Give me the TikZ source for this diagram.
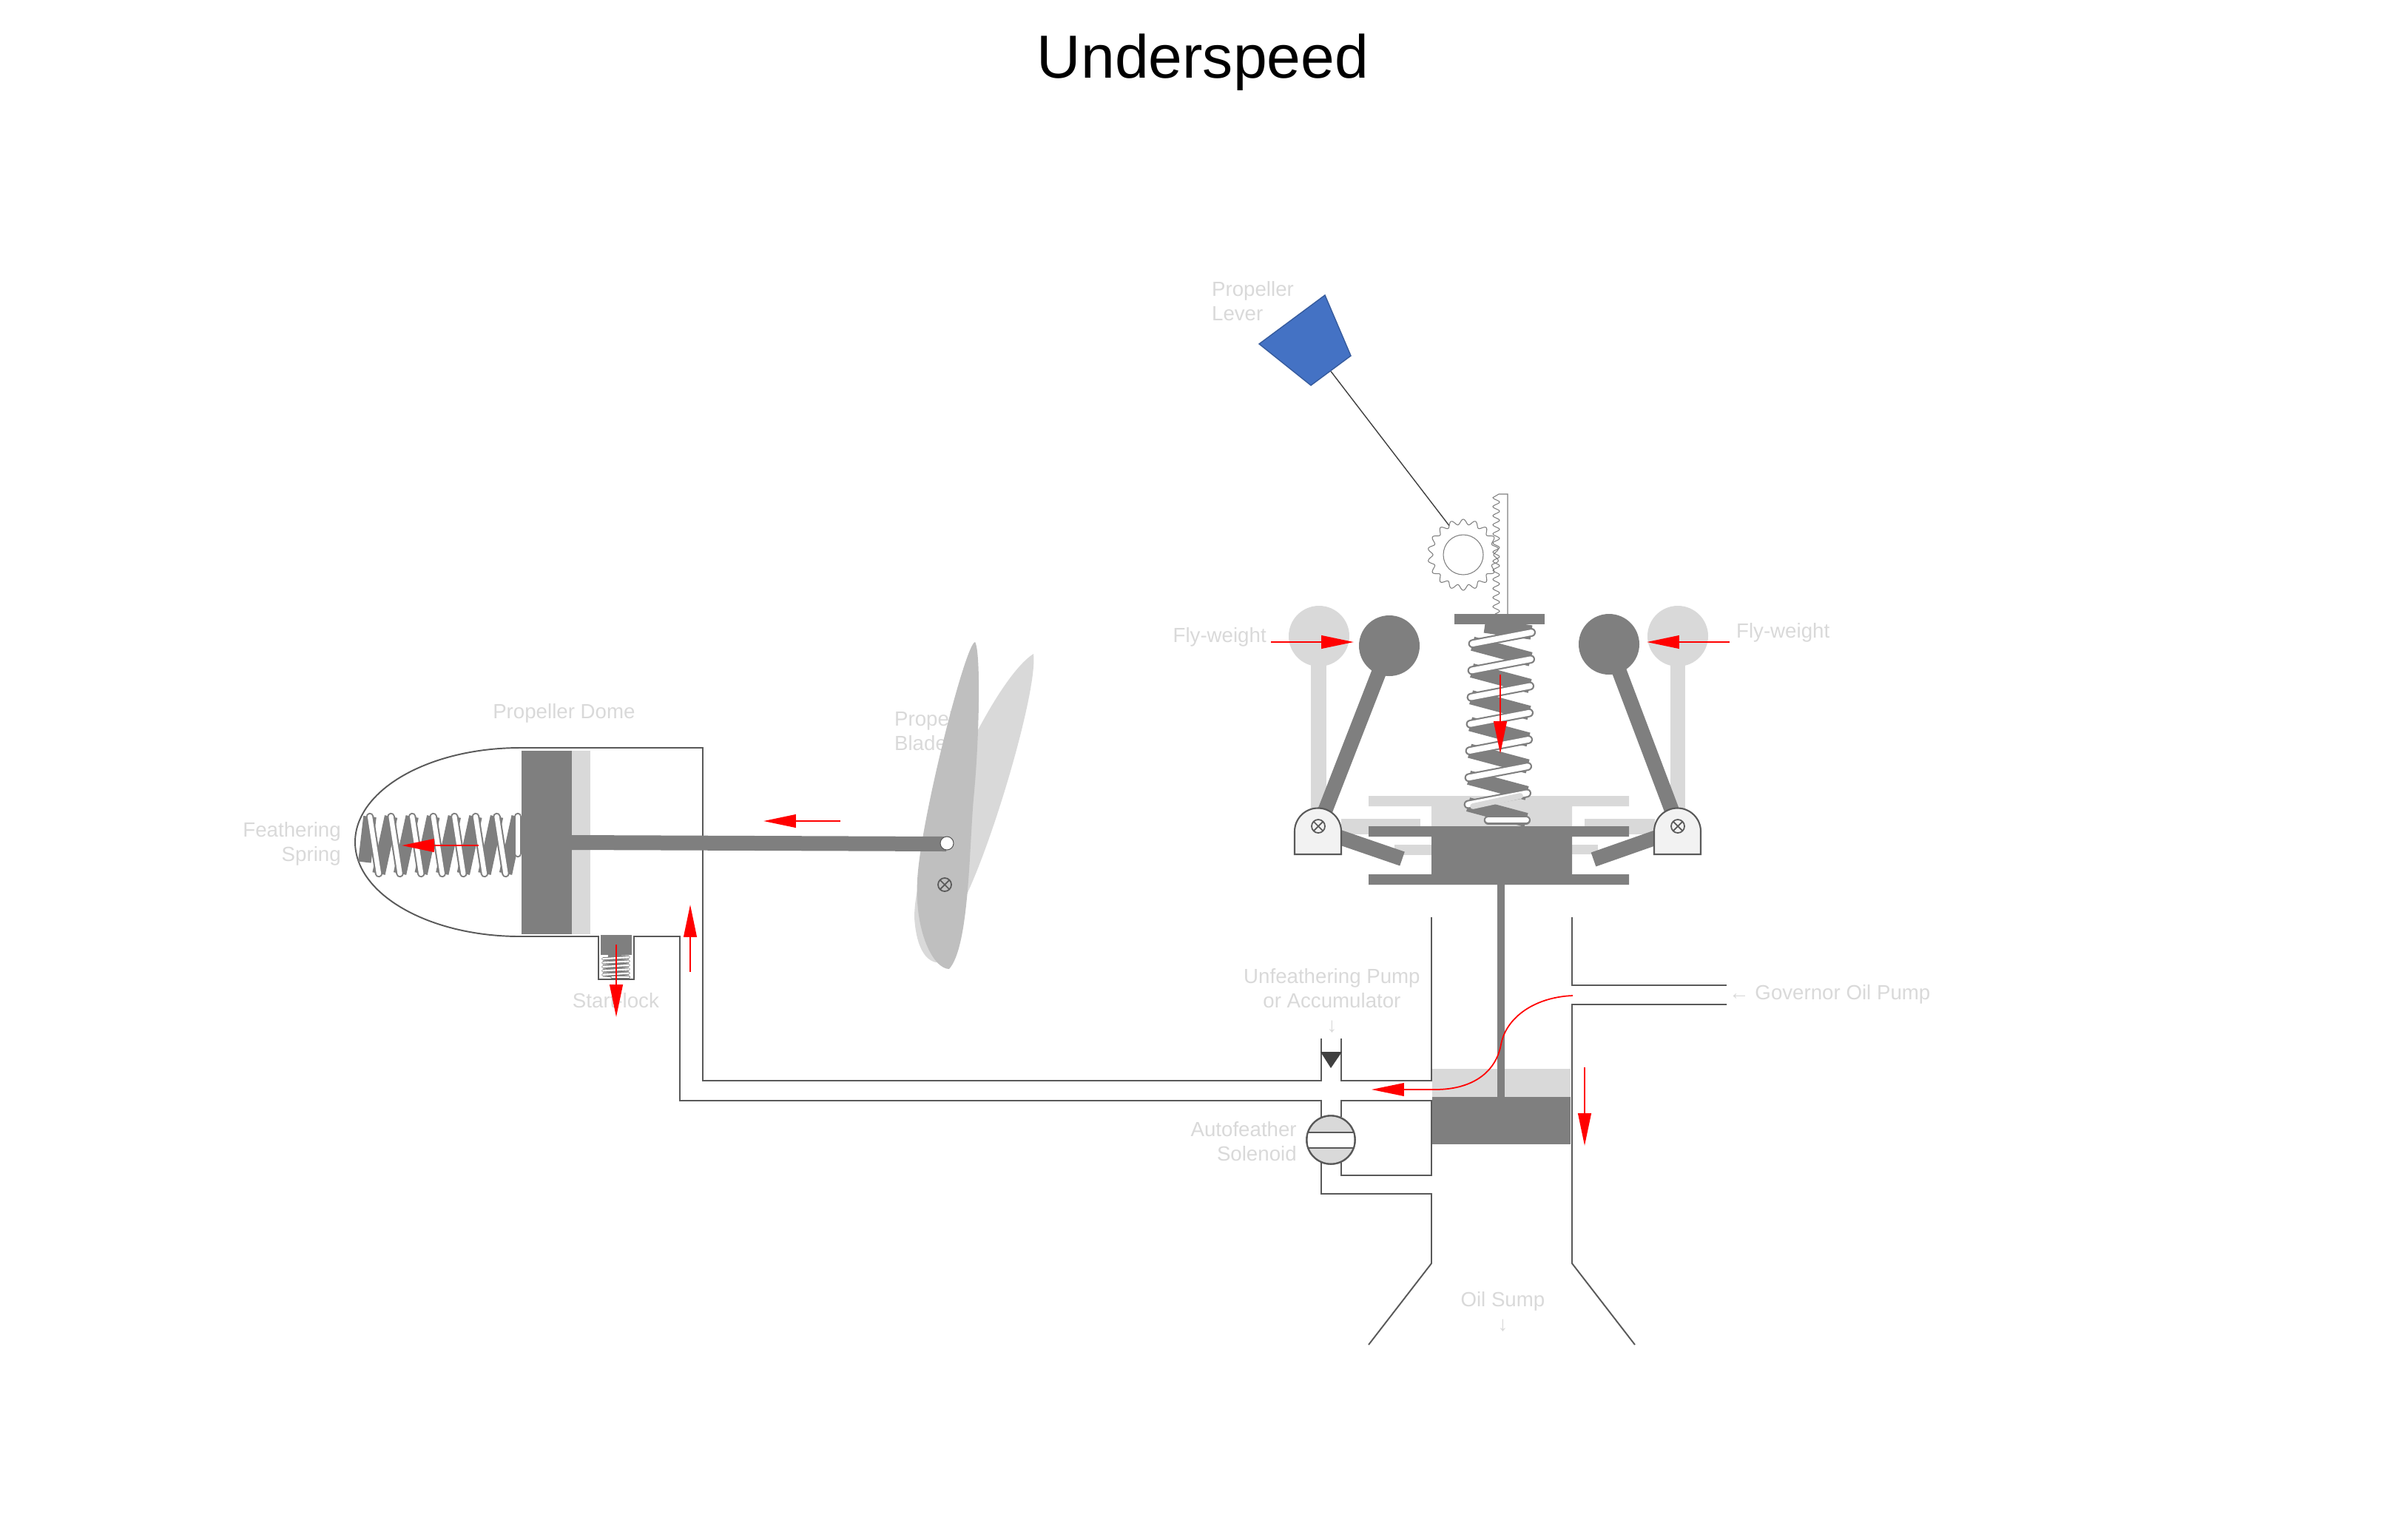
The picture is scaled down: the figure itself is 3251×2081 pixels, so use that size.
\documentclass[tikz,border=0pt]{standalone}
\usepackage{fontspec}
\setmainfont{Liberation Sans}
\usetikzlibrary{arrows.meta}
\definecolor{partdark}{HTML}{7F7F7F}
\definecolor{partlight}{HTML}{D9D9D9}
\definecolor{wallgray}{HTML}{595959}
\definecolor{leverblue}{HTML}{4472C4}
\tikzset{
	wall/.style={draw=wallgray,line width=0.55pt},
	darkpart/.style={fill=partdark,draw=none},
	lightpart/.style={fill=partlight,draw=none},
	flow/.style={draw=red,line width=0.7pt,-{Triangle[length=12.5pt,width=5pt]}},
	labeltext/.style={text=partlight,inner sep=0pt,xshift=0.4pt,yshift=-0.2pt,font=\fontsize{7.87}{9.4}\selectfont},
	coildark/.style={draw=partdark,line cap=butt},
}
\newcommand{\coilspring}[7]{%
	\begin{scope}[shift={#1},x={#2},y={#3}]
		\draw[coildark,line width=#5] (0.2,-0.25) -- (1,0);
		\foreach \k in {1,...,#4}
			\draw[coildark,line width=#5] (0,\k-0.58) -- (1,\k);
		\foreach \k in {1,...,#4}
			\draw[partdark,line width=#6,line cap=round] (1,\k-1) -- (0,\k-0.58);
		\draw[partdark,line width=#6,line cap=round] (1,#4) -- (0.35,#4);
		\foreach \k in {1,...,#4}
			\draw[white,line width=#7,line cap=round] (1,\k-1) -- (0,\k-0.58);
		\draw[white,line width=#7,line cap=round] (1,#4) -- (0.35,#4);
	\end{scope}
}
\begin{document}
\begin{tikzpicture}[x=0.01cm,y=-0.01cm]
	\useasboundingbox (0,0) rectangle (3251,2081);
	\node[font=\fontsize{23.4}{28}\selectfont,inner sep=0pt] (titlelabel) at (1626,84) {Underspeed};

	\node[labeltext,anchor=west,align=left] (leverlabel) at (1636,406.5) {Propeller\\Lever};
	\node[labeltext,anchor=east] (flyleftlabel) at (1711,861) {Fly-weight};
	\node[labeltext,anchor=west] (flyrightlabel) at (2345,855) {Fly-weight};
	\node[labeltext] (domelabel) at (761,964) {Propeller Dome};
	\node[labeltext,anchor=west,align=left] (bladelabel) at (1207,987) {Propeller\\Blade};
	\node[labeltext,anchor=east,align=right] (featherlabel) at (460,1140) {Feathering\\Spring};
	\node[labeltext] (startlabel) at (831,1352) {Start-lock};
	\node[labeltext,align=center] (unfeatherlabel) at (1799,1352) {Unfeathering Pump\\or Accumulator\\↓};
	\node[labeltext,anchor=east,align=right] (solenoidlabel) at (1752,1542) {Autofeather\\Solenoid};
	\node[labeltext,anchor=west] (pumplabel) at (2335,1344) {← Governor Oil Pump};
	\node[labeltext,align=center] (sumplabel) at (2030,1773) {Oil Sump\\↓};

	\fill[leverblue,draw=leverblue!80!black,line width=0.4pt] (1791,399) -- (1826,481) -- (1772,521) -- (1702,465) -- cycle;
	\draw[draw=black!75,line width=0.4pt] (1799,502) -- (1960,712);
	\begin{scope}[shift={(1978,750)}]
		\draw[partdark,fill=white,line width=0.3pt,domain=0:360,samples=361,smooth] plot (\x:{44.5-3.5*cos(18*\x)}) -- cycle;
		\draw[partdark,line width=0.3pt] (0,0) circle (27);
	\end{scope}
	\draw[partdark,line width=0.3pt] (2038,830) -- (2038,668) -- (2026,668) -- plot[domain=672.7:830,samples=130,smooth] ({2022.5-4.5*cos((\x-672.7)*29.3)},\x);

	\fill[lightpart] (1783,860) circle (41);
	\fill[lightpart] (2268,860) circle (41);
	\fill[lightpart] (1772,860) rectangle (1793,1110);
	\fill[lightpart] (2258,860) rectangle (2278,1110);
	\fill[lightpart] (1850,1076) -- (2202,1076) -- (2202,1090) -- (2125,1090) -- (2125,1120) -- (1935,1120) -- (1935,1090) -- (1850,1090) -- cycle;
	\fill[lightpart] (1813,1107) rectangle (1920,1128);
	\fill[lightpart] (2142,1107) rectangle (2237,1128);
	\fill[lightpart] (1885,1142) rectangle (1935,1156);
	\fill[lightpart] (2125,1142) rectangle (2160,1155);

	\coilspring{(1991,855)}{(0.79cm,0cm)}{(-0.01cm,-0.362cm)}{7}{5.5pt}{3.4pt}{2.2pt}
	\draw[partlight,line width=2.2pt,line cap=round] (2055,1076) -- (1991,1090);
	\fill[darkpart] (1966,830) rectangle (2088,844);

	\fill[darkpart] (1850,1117) -- (2202,1117) -- (2202,1131) -- (2125,1131) -- (2125,1182) -- (2202,1182) -- (2202,1196) -- (1850,1196) -- (1850,1182) -- (1935,1182) -- (1935,1131) -- (1850,1131) -- cycle;
	\fill[darkpart] (2024,1196) rectangle (2034,1483);
	\fill[lightpart] (1936,1445) rectangle (2024,1483);
	\fill[lightpart] (2034,1445) rectangle (2123,1483);
	\fill[darkpart] (1936,1483) rectangle (2123,1547);

	\fill[darkpart] (1878,873) circle (41);
	\fill[darkpart] (2175,871) circle (41);
	\draw[partdark,line width=5.7pt] (1878,873) -- (1783,1117);
	\draw[partdark,line width=5.7pt] (2175,871) -- (2268,1117);
	\draw[partdark,line width=5.7pt] (1782,1122) -- (1895.5,1161);
	\draw[partdark,line width=5.7pt] (2268,1122) -- (2154,1162);
	\foreach \px in {1750,2236}
		\draw[wall,fill=black!5,line width=0.6pt] (\px,1155) -- (\px,1124) arc[start angle=180,end angle=360,radius=31.5] -- (\px+63,1155) -- cycle;

	\draw[wall] (1935,1240) -- (1935,1461) -- (1813,1461) -- (1813,1404);
	\draw[wall] (1786,1404) -- (1786,1461) -- (950,1461) -- (950,1011) -- (703,1011) arc[start angle=270,end angle=90,x radius=223,y radius=127.5] -- (809,1266) -- (809,1324) -- (857,1324) -- (857,1266) -- (919,1266) -- (919,1488) -- (1786,1488) -- (1786,1510);
	\draw[wall] (1813,1510) -- (1813,1488) -- (1935,1488) -- (1935,1589) -- (1813,1589) -- (1813,1570);
	\draw[wall] (1786,1570) -- (1786,1614) -- (1935,1614) -- (1935,1708) -- (1850,1818);
	\draw[wall] (2125,1240) -- (2125,1332) -- (2334,1332);
	\draw[wall] (2334,1358) -- (2125,1358) -- (2125,1708) -- (2210,1818);

	\fill[black!75] (1785,1422) -- (1814,1422) -- (1799,1444) -- cycle;
	\draw[wall,line width=0.6pt,fill=partlight] (1799,1541) circle (32.7);
	\fill[white] (1768,1531) rectangle (1830,1552);
	\draw[wall,line width=0.6pt] (1799,1541) circle (32.7);
	\draw[wall,line width=0.6pt] (1768,1531) -- (1830,1531);
	\draw[wall,line width=0.6pt] (1768,1552) -- (1830,1552);

	\fill[darkpart] (705,1014.5) rectangle (772.5,1262.5);
	\fill[lightpart] (772.5,1014.5) rectangle (798,1262.5);
	\coilspring{(500,1181)}{(0cm,0.77cm)}{(0.2857cm,0cm)}{7}{5pt}{3pt}{1.8pt}
	\fill[darkpart] (812,1264) rectangle (854,1291);
	\coilspring{(815,1294)}{(0.35cm,0cm)}{(0cm,-0.054cm)}{5}{1.3pt}{1.1pt}{0.6pt}

	\fill[partlight] (1397,884) .. controls (1403,930) and (1345,1130) .. (1305,1213) -- (1290,1290) .. controls (1275,1310) and (1240,1310) .. (1236,1240) .. controls (1236,1150) and (1340,920) .. (1397,884);
	\fill[black!25] (1318,868) .. controls (1326,880) and (1324,1000) .. (1316,1080) .. controls (1310,1150) and (1310,1280) .. (1283,1310) .. controls (1262,1310) and (1236,1260) .. (1240,1190) .. controls (1244,1110) and (1305,870) .. (1318,868);
	\fill[darkpart] (772,1129) -- (1279,1131) -- (1279,1151) -- (772,1149) -- cycle;
	\draw[wall,fill=white,line width=0.3pt] (1280,1140) ellipse (9 and 9);
	\foreach \bx/\by in {1782/1117,2268/1117,1277/1196} {
		\draw[wall,line width=0.5pt] (\bx,\by) circle (9);
		\draw[wall,line width=0.5pt] (\bx-6.4,\by-6.4) -- (\bx+6.4,\by+6.4);
		\draw[wall,line width=0.5pt] (\bx-6.4,\by+6.4) -- (\bx+6.4,\by-6.4);
	}

	\draw[flow] (2028,912) -- (2028,1019);
	\draw[flow] (1718,868) -- (1830,868);
	\draw[flow] (2338,868) -- (2226,868);
	\draw[flow] (1136,1110) -- (1032,1110);
	\draw[flow] (647,1143) -- (543,1143);
	\draw[flow] (833,1277) -- (833,1375);
	\draw[flow] (933,1314) -- (933,1223);
	\draw[flow] (2142,1443) -- (2142,1549);
	\draw[flow,line width=0.5pt] (2126,1346) .. controls (2075,1348) and (2036,1375) .. (2029,1412) .. controls (2022,1450) and (1990,1473) .. (1940,1473) -- (1854,1473);
\end{tikzpicture}
\end{document}
